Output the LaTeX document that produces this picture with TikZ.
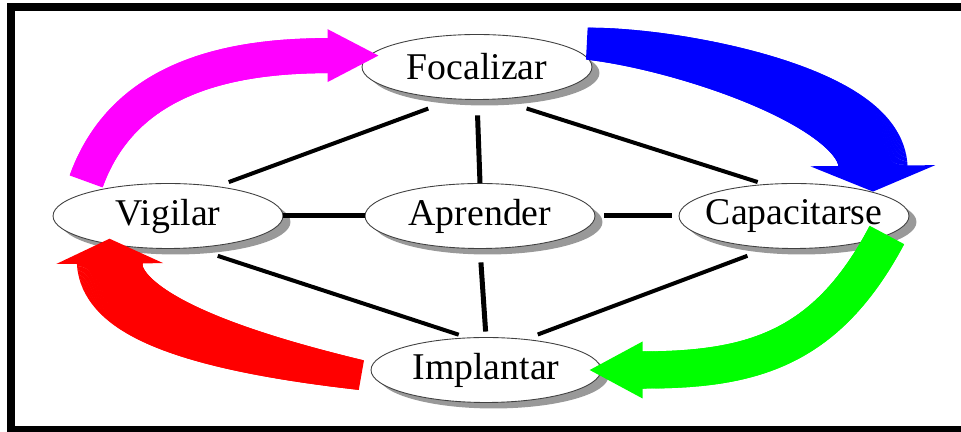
\documentclass[tikz,border=0pt]{standalone}
\usepackage{fontspec}
\setmainfont{Liberation Serif}
\usetikzlibrary{shapes.geometric,shadows,decorations.markings}

\definecolor{fuchsia}{RGB}{255,0,255}
\definecolor{lime}{RGB}{0,255,0}

\tikzset{
  swoosh/.style n args={5}{
    postaction={decorate, decoration={markings,
      mark=between positions 0 and 1 step 0.4pt with {
        \pgfmathsetlengthmacro\swhalf{0.5*(#1+(#2-#1)*\pgfkeysvalueof{/pgf/decoration/mark info/distance from start}/\pgfdecoratedpathlength)}
        \fill[#5] (-0.45pt,-\swhalf) rectangle (0.45pt,\swhalf);
      }}},
    postaction={decorate, decoration={markings,
      mark=at position 0.999 with {
        \fill[#5] (-0.5pt,-0.5*#3) -- (#4,0) -- (-0.5pt,0.5*#3) -- cycle;
      }}}
  }
}

\begin{document}
\begin{tikzpicture}[x=0.02cm, y=0.02cm,
                    stage/.style={ellipse, draw=black!75, line width=0.5pt, fill=white,
                                  minimum width=4.6cm, minimum height=1.3cm, inner sep=0pt,
                                  font=\fontsize{21.5}{24}\selectfont,
                                  drop shadow={shadow xshift=0.15cm, shadow yshift=-0.12cm,
                                               fill=black!40, opacity=1}},
                    link/.style={draw, line width=0.08cm}]

\useasboundingbox (0,0) rectangle (961,432);
\draw[line width=0.16cm] (11,2) rectangle (975,425);

\node[stage] (foc) at (477,365) {\makebox[0pt]{Focalizar}};
\node[stage] (vig) at (168,216) {\makebox[0pt]{Vigilar}};
\node[stage] (apr) at (480,216) {\makebox[0pt]{Aprender}};
\node[stage] (cap) at (794,216) {\makebox[0pt]{Capacitarse}};
\node[stage] (imp) at (486,62)  {\makebox[0pt]{Implantar}};

\path
(foc.234) edge [link, shorten <=0.54cm, shorten >=0.24cm] (vig.31)
(foc.303) edge [link, shorten <=0.6cm, shorten >=0.14cm] (cap.133)
(vig.309) edge [link, shorten <=0.5cm, shorten >=0.18cm] (imp.120)
(cap.231) edge [link, shorten <=0.44cm, shorten >=0.26cm] (imp.38)
(foc.south) edge [link, line width=0.1cm, shorten <=0.31cm] (apr.north)
(apr.south) edge [link, line width=0.1cm, shorten <=0.27cm, shorten >=0.11cm] (imp.north)
(vig.east) edge [link, line width=0.1cm] (apr.west)
(apr.east) edge [link, line width=0.1cm, shorten <=0.18cm, shorten >=0.14cm] (cap.west);

\path[swoosh={0.7cm}{0.7cm}{1.06cm}{1cm}{fuchsia}]
  ([yshift=0.24cm]vig.north west) to[out=70, in=180] ([xshift=-0.8cm]foc.174);
\path[swoosh={0.64cm}{1.4cm}{2.5cm}{0.5cm}{blue}]
  ([xshift=0.58cm]foc.north east) to[out=-3, in=90, out distance=1.85cm, in distance=1.36cm] ([yshift=0.5cm]cap.17);
\path[swoosh={0.78cm}{0.74cm}{1.14cm}{1.04cm}{lime}]
  (cap.-12) to[out=242, in=0, out distance=2.6cm, in distance=2.18cm] ([xshift=0.8cm]imp.east);
\path[swoosh={0.6cm}{1.32cm}{2.14cm}{0.48cm}{red}]
  ([xshift=-0.2cm, yshift=-0.1cm]imp.west) to[out=170, in=-90, out distance=2.16cm, in distance=1.2cm] ([yshift=-0.36cm]vig.206);
\end{tikzpicture}
\end{document}
